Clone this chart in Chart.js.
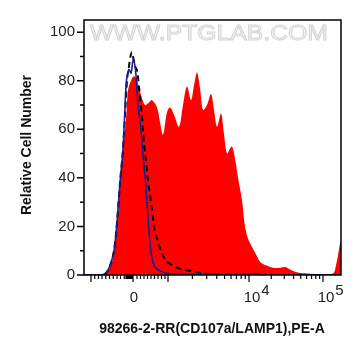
<!DOCTYPE html>
<html><head><meta charset="utf-8">
<script src="https://cdn.jsdelivr.net/npm/chart.js@4"></script>
<style>html,body{margin:0;padding:0;background:#fff}#wrap{width:361px;height:356px;position:relative}</style>
</head><body><div id="wrap"><canvas id="c"></canvas></div>
<script>
// Display channel units (biexponential display scale, 0..1028)
const sampleX = [0,76,92,108,120,132,144,156,168,176,188,200,212,224,244,260,272,292,304,316,332,344,360,380,396,412,428,440,452,464,476,492,508,520,532,548,560,572,584,592,604,616,632,644,656,672,688,704,728,756,780,804,824,856,892,924,984,1000,1008,1016,1024,1028];
const sampleY = [0,0,1.5,4,9,20,36,51,64,76,80,81.8,80,75.5,70,71,72,69,63,57.7,67,69,66,61,70,77.6,72,78,83.4,77,68,70,74.5,68,61,66.5,58,50,52,53,48,40,30.7,20,15,11.5,8.5,5.5,4,3,2.9,3.3,2.3,1,0.6,0.4,0.3,1,4,8,13,14];
const isotypeX = [0,64,84,96,108,120,128,136,144,156,164,172,180,186,191,196,204,213,220,233,240,248,256,268,276,280,292,304,316,332,344,384,424,464,492,544,664,1028];
const isotypeY = [0,0,0.5,2,5,10,17,27,38,52,66,80,86,90,91.7,90,86,83.8,77.6,64,54.4,47,39,30,23.7,19.6,15,11,8,5.4,4.6,2.5,1.7,0.9,0.5,0.1,0,0];
const blankX = [0,64,84,96,108,120,128,136,144,156,162,168,174,180,188,197,207,216,226,234,240,248,256,264,272,280,292,308,328,364,464,664,688,704,864,1028];
const blankY = [0,0,0.5,2,5,10,17,27,38,52,64,78,82.6,84.7,83,88.8,83.4,70,62,52,45,36,24,13,7,4,2.5,1.5,0.8,0.3,0.2,0.2,0.6,0.2,0,0];

const yTickValues = [0,20,40,60,80,100];
const yTickLabels = ['0','20','40','60','80','100'];
const yMinorValues = [10,30,50,70,90];
const xMajorValues = [28,196,336,660,956];
const xLabelValues = [196,660,956];
const xLabelBase = ['0','10','10'];
const xLabelSup = ['','4','5'];
const xLinearMinor = [43,58,72,87,102,117,132,146,161,168,172,176,180,184,188,192,212,226,240,254,268,282,296,310,324];

const zip = (xs, ys) => xs.map((x, i) => ({x, y: ys[i]}));
const FONT = '"Liberation Sans", Arial, sans-serif';

const decor = {
  id: 'decor',
  beforeDatasetsDraw(chart) {
    const {ctx} = chart;
    ctx.save();
    ctx.font = '22px ' + FONT;
    const txt = 'WWW.PTGLAB.COM';
    const w = ctx.measureText(txt).width;
    ctx.translate(209, 40);
    ctx.scale(238 / w, 1);
    ctx.textAlign = 'center';
    ctx.textBaseline = 'alphabetic';
    ctx.fillStyle = '#f5f5f5';
    ctx.fillText(txt, 0, 0);
    ctx.strokeStyle = '#d4d4d4';
    ctx.lineWidth = 1;
    ctx.strokeText(txt, 0, 0);
    ctx.restore();
  },
  afterDraw(chart) {
    const {ctx, chartArea: a, scales: {x, y}} = chart;
    ctx.save();
    ctx.strokeStyle = '#000';
    ctx.lineWidth = 1.5;
    ctx.strokeRect(a.left, a.top, a.right - a.left, a.bottom - a.top);
    ctx.beginPath();
    yTickValues.forEach(v => { const p = y.getPixelForValue(v); ctx.moveTo(a.left - 7, p); ctx.lineTo(a.left, p); });
    yMinorValues.forEach(v => { const p = y.getPixelForValue(v); ctx.moveTo(a.left - 4, p); ctx.lineTo(a.left, p); });
    ctx.stroke();
    ctx.lineWidth = 1.2;
    ctx.beginPath();
    const b = a.bottom;
    xMajorValues.forEach(v => { const p = x.getPixelForValue(v); ctx.moveTo(p, b); ctx.lineTo(p, b + 7); });
    const minor = xLinearMinor.slice();
    for (let k = 2; k <= 9; k++) {
      minor.push(xMajorValues[2] + (xMajorValues[3] - xMajorValues[2]) * Math.log10(k));
      minor.push(xMajorValues[3] + (xMajorValues[4] - xMajorValues[3]) * Math.log10(k));
    }
    minor.forEach(v => { if (v <= x.max) { const p = x.getPixelForValue(v); ctx.moveTo(p, b); ctx.lineTo(p, b + 4); } });
    ctx.stroke();
    // x labels
    ctx.fillStyle = '#222';
    ctx.font = '15px ' + FONT;
    ctx.textBaseline = 'middle';
    xLabelValues.forEach((v, i) => {
      const p = x.getPixelForValue(v);
      ctx.textAlign = 'center';
      const bw = ctx.measureText(xLabelBase[i]).width;
      const cx = p + (xLabelSup[i] ? 3 : 1);
      ctx.fillText(xLabelBase[i], cx, 298);
      if (xLabelSup[i]) {
        ctx.textAlign = 'left';
        ctx.fillText(xLabelSup[i], cx + bw / 2 + 1, 291);
      }
    });
    // titles
    ctx.fillStyle = '#111';
    ctx.font = 'bold 14px ' + FONT;
    ctx.textAlign = 'center';
    ctx.fillText('98266-2-RR(CD107a/LAMP1),PE-A', 212, 329);
    ctx.translate(27, 145);
    ctx.rotate(-Math.PI / 2);
    ctx.fillText('Relative Cell Number', 0, 0);
    ctx.restore();
  }
};

new Chart(document.getElementById('c'), {
  type: 'line',
  data: {
    datasets: [
      {label: 'Blank', data: zip(blankX, blankY), borderColor: '#1c1c8c', borderWidth: 1.6, fill: false, pointRadius: 0, cubicInterpolationMode: 'monotone'},
      {label: 'Isotype', data: zip(isotypeX, isotypeY), borderColor: '#000', borderWidth: 2, borderDash: [6, 4], fill: false, pointRadius: 0, cubicInterpolationMode: 'monotone'},
      {label: 'Sample', data: zip(sampleX, sampleY), borderWidth: 0, borderColor: 'rgba(0,0,0,0)', backgroundColor: '#ff0000', fill: 'origin', pointRadius: 0, tension: 0.35}
    ]
  },
  options: {
    responsive: true, maintainAspectRatio: false, animation: false,
    layout: {padding: {top: 20, right: 20, left: 0, bottom: 0}},
    plugins: {legend: {display: false}, tooltip: {enabled: false}},
    scales: {
      x: {type: 'linear', min: 0, max: 1028, ticks: {display: false}, grid: {display: false, drawTicks: false}, border: {display: false},
          afterFit(s) { s.height = 81; }},
      y: {type: 'linear', min: 0, max: 105,
          afterBuildTicks(s) { s.ticks = yTickValues.map(v => ({value: v})); },
          ticks: {padding: 9, color: '#222', font: {family: FONT, size: 15}, callback: (v) => yTickLabels[yTickValues.indexOf(v)] ?? ''},
          grid: {display: false, drawTicks: false}, border: {display: false},
          afterFit(s) { s.width = 84; }}
    }
  },
  plugins: [decor]
});
</script></body></html>
